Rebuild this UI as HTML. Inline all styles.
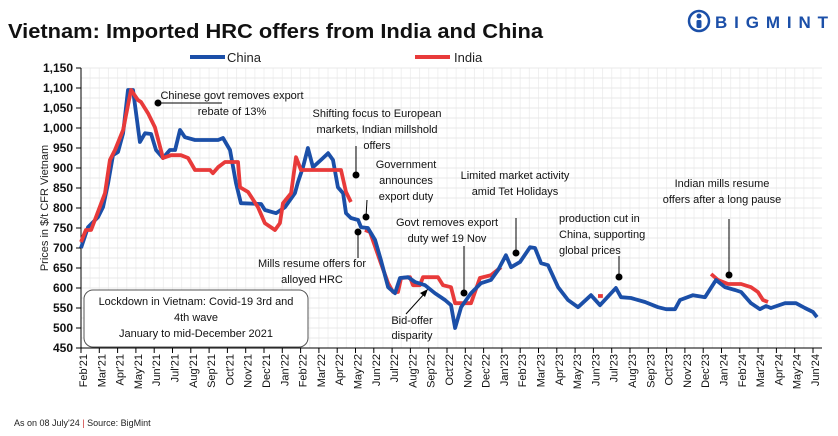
<!DOCTYPE html>
<html><head><meta charset="utf-8">
<style>
body{margin:0;background:#fff;font-family:"Liberation Sans",sans-serif;}
#wrap{position:relative;width:838px;height:436px;overflow:hidden;}
</style></head>
<body>
<div id="wrap">
<svg id="chart" width="838" height="436" font-family="Liberation Sans, sans-serif">
<text x="8" y="38" font-size="20" font-weight="bold" fill="#111" textLength="535" lengthAdjust="spacingAndGlyphs">Vietnam: Imported HRC offers from India and China</text>
<g>
<circle cx="699" cy="21" r="10" fill="none" stroke="#1b4fa8" stroke-width="2.5"/>
<circle cx="699" cy="16" r="2.5" fill="#1b4fa8"/>
<rect x="696.5" y="20" width="5" height="8" rx="1.5" fill="#1b4fa8"/>
<text x="715" y="28" font-size="17" font-weight="bold" fill="#1b4fa8" textLength="113" lengthAdjust="spacing">BIGMINT</text>
</g>
<g>
<g><line x1="190" y1="57" x2="225" y2="57" stroke="#1b4fa8" stroke-width="4"/><text x="227" y="62" font-size="13" fill="#222">China</text></g>
<g><line x1="415" y1="57" x2="450" y2="57" stroke="#e83a3a" stroke-width="4"/><text x="454" y="62" font-size="13" fill="#222">India</text></g>
</g>
<g id="grid"></g>
<g id="axes"></g>
<text transform="translate(48,208) rotate(-90)" text-anchor="middle" font-size="11" fill="#222">Prices in $/t CFR Vietnam</text>
<g id="series"></g>
<g font-size="11" fill="#111" text-anchor="middle">
<g><line x1="158" y1="103" x2="222" y2="103" stroke="#000"/><circle cx="158" cy="103" r="3.5" fill="#000"/><text x="232" y="99">Chinese govt removes export</text><text x="232" y="115">rebate of 13%</text></g>
<g><line x1="356" y1="175" x2="356" y2="146" stroke="#000"/><circle cx="356" cy="175" r="3.5" fill="#000"/><text x="377" y="117">Shifting focus to European</text><text x="377" y="133">markets, Indian millshold</text><text x="377" y="149">offers</text></g>
<g><line x1="366" y1="217" x2="367" y2="200" stroke="#000"/><circle cx="366" cy="217" r="3.5" fill="#000"/><text x="406" y="168">Government</text><text x="406" y="184">announces</text><text x="406" y="200">export duty</text></g>
<g><line x1="358" y1="232" x2="358" y2="258" stroke="#000"/><circle cx="358" cy="232" r="3.5" fill="#000"/><text x="312" y="267">Mills resume offers for</text><text x="312" y="283">alloyed HRC</text></g>
<g><line x1="516" y1="253" x2="516" y2="218" stroke="#000"/><circle cx="516" cy="253" r="3.5" fill="#000"/><text x="515" y="179">Limited market activity</text><text x="515" y="195">amid Tet  Holidays</text></g>
<g><line x1="464" y1="293" x2="464" y2="246" stroke="#000"/><circle cx="464" cy="293" r="3.5" fill="#000"/><text x="447" y="226">Govt removes export</text><text x="447" y="242">duty wef 19 Nov</text></g>
<g><line x1="406" y1="314" x2="425" y2="293" stroke="#000"/><path d="M428,289 L420,293 L425,297 Z" fill="#000"/><text x="412" y="324">Bid-offer</text><text x="412" y="339">disparity</text></g>
<g text-anchor="start"><line x1="619" y1="277" x2="619" y2="256" stroke="#000"/><circle cx="619" cy="277" r="3.5" fill="#000"/><text x="559" y="222">production cut in</text><text x="559" y="238">China, supporting</text><text x="559" y="254">global prices</text></g>
<g><line x1="729" y1="275" x2="729" y2="219" stroke="#000"/><circle cx="729" cy="275" r="3.5" fill="#000"/><text x="722" y="187">Indian mills resume</text><text x="722" y="203">offers after a long pause</text></g>
<g><rect x="84" y="290" width="224" height="57" rx="9" fill="#fff" stroke="#555"/><text x="196" y="305">Lockdown  in Vietnam: Covid-19 3rd and</text><text x="196" y="321">4th wave</text><text x="196" y="337">January to mid-December  2021</text></g>
</g>
<text x="14" y="426" font-size="9" fill="#222">As on 08 July'24 <tspan fill="#c33">|</tspan> Source: BigMint</text>
</svg>
</div>
<script>
const months=["Feb'21","Mar'21","Apr'21","May'21","Jun'21","Jul'21","Aug'21","Sep'21","Oct'21","Nov'21","Dec'21","Jan'22","Feb'22","Mar'22","Apr'22","May'22","Jun'22","Jul'22","Aug'22","Sep'22","Oct'22","Nov'22","Dec'22","Jan'23","Feb'23","Mar'23","Apr'23","May'23","Jun'23","Jul'23","Aug'23","Sep'23","Oct'23","Nov'23","Dec'23","Jan'24","Feb'24","Mar'24","Apr'24","May'24","Jun'24"];
const yTicks=[450,500,550,600,650,700,750,800,850,900,950,1000,1050,1100,1150];
const chinaT=[0,0.38,0.93,1.2,1.48,1.75,2.02,2.3,2.57,2.84,3.22,3.5,3.83,4.1,4.48,4.86,5.14,5.41,5.68,6.23,7.49,7.76,8.14,8.47,8.74,9.84,10.05,10.66,11.15,11.69,11.86,12.13,12.4,12.68,13.11,13.5,13.77,14.04,14.32,14.48,14.75,15.14,15.3,15.68,16.07,16.39,16.78,17.16,17.43,17.87,18.25,18.8,19.34,19.89,20.22,20.44,20.77,21.31,21.86,22.4,22.79,23.22,23.5,23.99,24.54,24.81,25.14,25.52,26.07,26.61,27.16,27.87,28.36,29.23,29.51,30.05,30.82,31.53,31.97,32.46,32.73,33.44,34.1,34.7,35.19,35.74,36.07,36.61,37.1,37.43,37.7,38.47,39.07,39.56,40.0,40.22];
const chinaV=[700,752,777,802,862,932,940,987,1095,1095,965,987,985,945,925,945,945,995,977,970,970,975,945,862,812,810,795,787,802,837,865,902,950,902,920,937,920,852,837,787,775,770,752,750,720,670,602,587,625,627,615,607,587,570,557,500,552,587,612,620,645,682,652,665,702,700,662,657,602,570,552,582,557,600,577,575,565,552,547,547,570,582,577,620,602,595,590,562,547,555,550,562,562,550,540,527];
const indiaSegT=[
[0,0.27,0.55,1.31,1.58,1.86,2.3,2.73,3.11,3.28,3.66,4.04,4.48,4.92,5.46,5.85,6.23,7.05,7.21,7.49,7.87,8.58,8.69,9.13,9.67,10.05,10.6,10.87,11.04,11.48,11.75,12.02,14.21,14.48,14.75],
[15.52,15.79,16.39,16.78,17.05,17.32,17.49,17.98,18.14,18.52,18.69,19.51,19.78,20.22,20.44,21.31,21.8,22.4,22.95],
[28.25,28.52],
[34.43,34.81,35.36,36.07,36.61,36.99,37.27,37.54]];
const indiaSegV=[
[715,745,745,837,920,945,995,1095,1070,1065,1037,1002,925,932,932,925,895,895,887,902,915,915,852,840,802,762,745,762,812,837,927,895,895,840,815],
[745,740,662,612,590,590,625,627,607,607,627,627,607,602,562,562,625,632,652],
[580,580],
[635,620,610,610,602,590,570,565]];

const NS="http://www.w3.org/2000/svg";
const X0=81,DX=18.3,YB=348,YT=68,VMIN=450,VMAX=1150,XR=822;
function xs(m){return X0+m*DX;}
function ys(v){return YB-(v-VMIN)/(VMAX-VMIN)*(YB-YT);}
function mk(tag,attrs,parent){const e=document.createElementNS(NS,tag);for(const k in attrs)e.setAttribute(k,attrs[k]);parent.appendChild(e);return e;}
const grid=document.getElementById('grid'),axes=document.getElementById('axes'),series=document.getElementById('series');
for(let m=0;m<=41;m+=0.5){const x=xs(m);if(x>XR)break;const l=mk('line',{x1:x,x2:x,y1:YT,y2:YB,stroke:'#f0f0f0','stroke-width':1},grid);

}
for(let v=VMIN;v<=VMAX;v+=25){const l=mk('line',{x1:X0,x2:XR,y1:ys(v),y2:ys(v),stroke:'#e8e8e8','stroke-width':1},grid);

}
mk('line',{x1:X0,x2:X0,y1:YT,y2:YB,stroke:'#000'},axes);
mk('line',{x1:X0,x2:XR,y1:YB,y2:YB,stroke:'#000'},axes);
yTicks.forEach(v=>{mk('line',{x1:X0-5,x2:X0,y1:ys(v),y2:ys(v),stroke:'#000'},axes);
const t=mk('text',{x:X0-8,y:ys(v)+4,'text-anchor':'end','font-size':12,'font-weight':'bold',fill:'#111'},axes);t.textContent=v.toLocaleString('en-US');

});
months.forEach((mo,i)=>{const x=xs(i);mk('line',{x1:x,x2:x,y1:YB,y2:YB+5,stroke:'#000'},axes);
const t=mk('text',{transform:`translate(${x+6},${YB+6}) rotate(-90)`,'text-anchor':'end','font-size':11,fill:'#111'},axes);t.textContent=mo;

});
function path(T,V){return T.map((t,i)=>(i?'L':'M')+xs(t).toFixed(1)+','+ys(V[i]).toFixed(1)).join(' ');}
indiaSegT.forEach((T,k)=>{const p=mk('path',{d:path(T,indiaSegV[k]),fill:'none',stroke:'#e83a3a','stroke-width':3.8,'stroke-linejoin':'round'},series);

});
const cp=mk('path',{d:path(chinaT,chinaV),fill:'none',stroke:'#1b4fa8','stroke-width':3.8,'stroke-linejoin':'round'},series);


series.appendChild(series.firstChild);
</script>
</body></html>
